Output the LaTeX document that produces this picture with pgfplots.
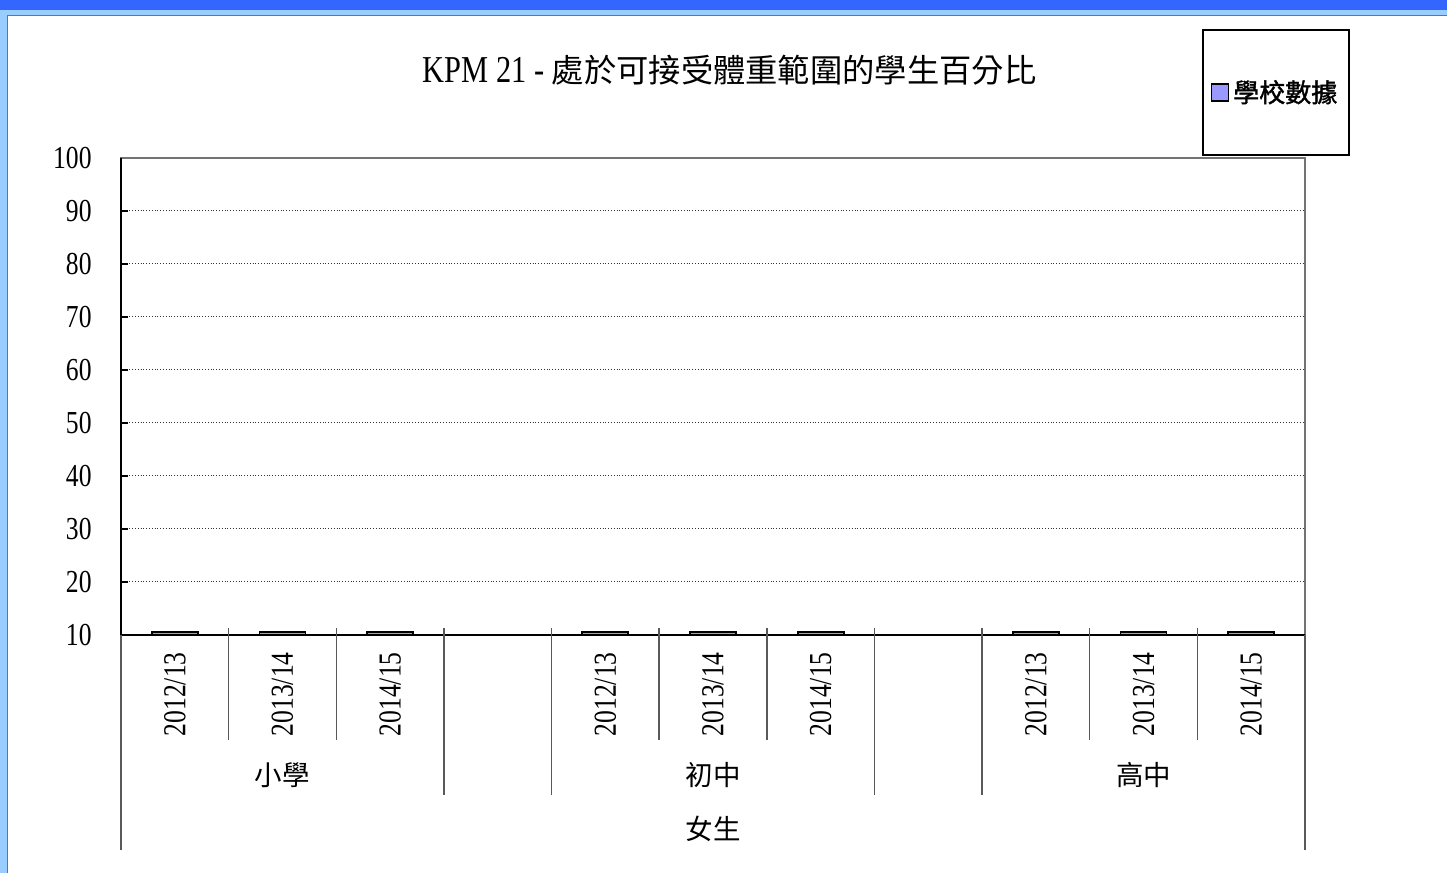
\documentclass[border=0pt]{standalone}
\usepackage{pgfplots}
\pgfplotsset{compat=1.18}
\usepackage{fontspec}
\setmainfont{Liberation Serif}
\newfontfamily\tickfont[FakeStretch=0.8]{Liberation Serif}
\newfontfamily\cjk{Noto Sans CJK TC}
\newfontfamily\cjkb[FakeBold=1.5]{Noto Sans CJK TC}
\definecolor{barcol}{HTML}{9999FF}
\definecolor{topblue}{HTML}{3366FF}
\definecolor{sideblue}{HTML}{99CCFF}

\begin{document}
\begin{tikzpicture}[x=0.5pt,y=0.5pt]
\path[use as bounding box] (0,0) rectangle (1447,873);
\fill[sideblue] (0,0) rectangle (1447,873);
\fill[topblue] (0,863) rectangle (1447,873);
\fill[white] (7,0) rectangle (1447,858);
\draw[black!55, line width=0.75pt] (7.5,0) -- (7.5,857.5) -- (1447,857.5);

\node[anchor=center, inner sep=0pt] at (729.5,803) {\fontsize{19}{19}\tickfont KPM 21 - \fontsize{16.15}{16.15}\cjk 處於可接受體重範圍的學生百分比};

\begin{axis}[
  at={(60.5pt,119pt)}, anchor=south west,
  scale only axis, width=592pt, height=238.5pt,
  ybar, bar width=23pt,
  clip=false,
  xmin=-0.5, xmax=10.5, ymin=10, ymax=100,
  ytick={10,20,...,100},
  xtick={0,1,2,4,5,6,8,9,10},
  xticklabels={2012/13,2013/14,2014/15,2012/13,2013/14,2014/15,2012/13,2013/14,2014/15},
  /pgf/number format/assume math mode=true,
  tick label style={font=\fontsize{16}{16}\tickfont},
  xticklabel style={rotate=90, anchor=east, inner sep=0pt},
  xticklabel shift=8.5pt,
  yticklabel style={anchor=east, inner sep=0pt},
  yticklabel shift=14.5pt,
  xtick style={draw=none},
  ytick style={black, line width=0.6pt},
  tick align=inside, major tick length=3.5pt,
  ytick pos=left,
  ymajorgrids,
  grid style={densely dotted, black!80, line width=0.5pt},
  axis line style={black!55, line width=0.75pt},
  legend style={at={(0.9755,1.137)}, anchor=center, draw=black, line width=0.9pt,
    inner xsep=4pt, inner ysep=23pt, font=\fontsize{13}{13}\cjkb,
    /tikz/every even column/.append style={column sep=0pt}},
  legend image code/.code={\draw[fill=barcol, draw=black, line width=0.8pt] (0pt,-4.25pt) rectangle (8.5pt,4.25pt);},
]
\addplot[fill=barcol, draw=black, line width=0.9pt] coordinates {
  (0,10.6) (1,10.6) (2,10.6)
  (4,10.6) (5,10.6) (6,10.6)
  (8,10.6) (9,10.6) (10,10.6)
};
\addlegendentry{學校數據}

\draw[black, line width=0.9pt] (rel axis cs:0,1) -- (rel axis cs:0,0) -- (rel axis cs:1,0);

\draw[black!65, line width=0.75pt] (axis cs:0.5,10) ++(0pt,3.5pt) -- ++(0pt,-56pt);
\draw[black!65, line width=0.75pt] (axis cs:1.5,10) ++(0pt,3.5pt) -- ++(0pt,-56pt);
\draw[black!65, line width=0.75pt] (axis cs:4.5,10) ++(0pt,3.5pt) -- ++(0pt,-56pt);
\draw[black!65, line width=0.75pt] (axis cs:5.5,10) ++(0pt,3.5pt) -- ++(0pt,-56pt);
\draw[black!65, line width=0.75pt] (axis cs:8.5,10) ++(0pt,3.5pt) -- ++(0pt,-56pt);
\draw[black!65, line width=0.75pt] (axis cs:9.5,10) ++(0pt,3.5pt) -- ++(0pt,-56pt);

\draw[black!65, line width=0.75pt] (axis cs:2.5,10) ++(0pt,3.5pt) -- ++(0pt,-83.5pt);
\draw[black!65, line width=0.75pt] (axis cs:3.5,10) ++(0pt,3.5pt) -- ++(0pt,-83.5pt);
\draw[black!65, line width=0.75pt] (axis cs:6.5,10) ++(0pt,3.5pt) -- ++(0pt,-83.5pt);
\draw[black!65, line width=0.75pt] (axis cs:7.5,10) ++(0pt,3.5pt) -- ++(0pt,-83.5pt);

\draw[black!65, line width=0.75pt] (axis cs:-0.5,10) -- ++(0pt,-107.5pt);
\draw[black!65, line width=0.75pt] (axis cs:10.5,10) -- ++(0pt,-107.5pt);

\node[font=\fontsize{13.75}{13.75}\cjk, inner sep=0pt] at ([yshift=-70pt]axis cs:1,10) {小學};
\node[font=\fontsize{13.75}{13.75}\cjk, inner sep=0pt] at ([yshift=-70pt]axis cs:5,10) {初中};
\node[font=\fontsize{13.75}{13.75}\cjk, inner sep=0pt] at ([yshift=-70pt]axis cs:9,10) {高中};
\node[font=\fontsize{13.75}{13.75}\cjk, inner sep=0pt] at ([yshift=-97pt]axis cs:5,10) {女生};
\end{axis}
\end{tikzpicture}
\end{document}
